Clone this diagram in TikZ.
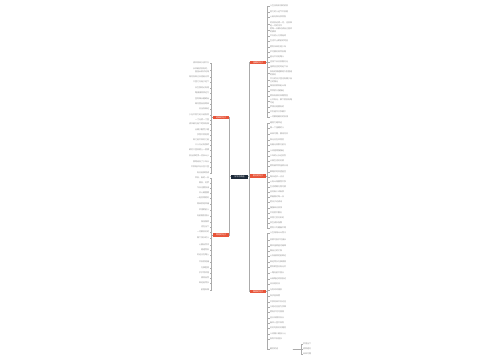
\documentclass[tikz,border=0pt]{standalone}
\usepackage{fontspec}
\newfontfamily\cjk{Noto Sans CJK SC}
\XeTeXlinebreaklocale "zh"
\XeTeXlinebreakskip=0pt
\usepackage{tikz}
\usetikzlibrary{positioning}
\usepackage{xcolor}
\definecolor{rootblue}{HTML}{1E2B3A}
\definecolor{topicred}{HTML}{E8553A}
\definecolor{linkgray}{HTML}{ABABAB}
\definecolor{leafgray}{HTML}{8C8C8C}

\begin{document}
\begin{tikzpicture}[x=1pt, y=-1pt,
  root/.style={rectangle, fill=rootblue, text=white, minimum width=17pt,
               minimum height=4pt, inner sep=0.4pt,
               font=\cjk\fontsize{2}{2.4}\selectfont},
  topic/.style={rectangle, fill=topicred, text=white, minimum width=16pt,
                minimum height=3.6pt, inner sep=0.4pt,
                font=\cjk\fontsize{2}{2.4}\selectfont},
  leafR/.style={anchor=west, text width=22pt, align=left, inner sep=0.3pt,
                text=leafgray, font=\cjk\fontsize{2}{2.6}\selectfont},
  leafL/.style={anchor=east, text width=22pt, align=right, inner sep=0.3pt,
                text=leafgray, font=\cjk\fontsize{2}{2.6}\selectfont},
  link/.style={draw=linkgray, line width=1pt},
  twig/.style={draw=linkgray, line width=0.6pt}
]
  \fill[white] (0,0) rectangle (500,360);
  \useasboundingbox (0,0) rectangle (500,360);

  % Centre and main topics
  \node[root]  (c)  at (239.5,176.5) {好句子精选};
  \node[topic] (r1) at (258,62.5)    {温暖的句子};
  \node[topic] (r2) at (258,176)     {励志的句子};
  \node[topic] (r3) at (258,291.5)   {唯美的句子};
  \node[topic] (l1) at (221,117.5)   {经典的句子};
  \node[topic] (l2) at (221,235)     {简短的句子};

  % Topic links
  \draw[link] (c.east) -- ++(1,0) |- (r1.west);
  \draw[link] (c.east) -- ++(1,0) |- (r2.west);
  \draw[link] (c.east) -- ++(1,0) |- (r3.west);
  \draw[link] (c.west) -- ++(-1,0) |- (l1.east);
  \draw[link] (c.west) -- ++(-1,0) |- (l2.east);

  % Right, first topic
  \foreach \y/\txt [count=\i] in {6/人生没有彩排的机会, 12/努力的人运气不会差,
      17/心若向阳无畏悲伤, 24/时间会证明一切，也会带走一切的浮华,
      30/把每一天都过成自己喜欢的模样, 36/不忘初心方得始终, 41/生活不止眼前的苟且,
      47/愿你归来仍是少年, 52/岁月静好现世安稳, 57/星光不问赶路人,
      62/坚持下去总会看见光, 67/温柔且坚定地走下去, 73/所有的相遇都是久别重逢的美好,
      80/平凡的日子里也有属于自己的微光, 86/保持热爱奔赴山海, 91/世界很大慢慢走,
      96/愿所有美好如期而至, 101/心中有光，脚下就会有路可走, 107/梦想总是要有的,
      112/不负韶华只争朝夕, 117/一切都是最好的安排} {
    \node[leafR] (ra\i) at (269.5,\y) {\txt};
    \draw[twig] (r1.east) -- ++(1.5,0) |- (ra\i.west);
  }

  % Right, second topic
  \foreach \y/\txt [count=\i] in {123/越努力越幸运, 128/做一个温暖的人,
      134/未来可期，静待花开, 140/阳光总在风雨后, 145/向着光亮那方前行,
      151/人间值得慢慢走, 156/少年的心永远热烈, 161/认真生活好好爱,
      166/愿你被世界温柔以待, 172/脚踏实地仰望星空, 177/每天进步一点点,
      182/心有山海静而不争, 187/生活明朗万物可爱, 192/且将新火试新茶,
      197/笑着面对每一天, 202/把日子过成诗, 208/慢慢来比较快, 213/不将就不敷衍,
      218/风雨之后见彩虹, 223/余生请多指教, 228/愿你三冬暖春不寒} {
    \node[leafR] (rb\i) at (269.5,\y) {\txt};
    \draw[twig] (r2.east) -- ++(1.5,0) |- (rb\i.west);
  }

  % Right, third topic
  \foreach \y/\txt [count=\i] in {233/人生海海山山而川, 240/热爱可抵岁月漫长,
      246/晚风温柔星河璀璨, 251/做自己的太阳, 256/心存善意定能致远,
      262/知足常乐万事顺意, 267/愿你眼里总有光芒, 273/一路向前不回头,
      279/山高路远终会抵达, 284/日日是好日, 290/与你环环相扣, 296/所求皆如愿,
      302/不畏将来不念过往, 307/凡是过往皆为序章, 312/愿有岁月可回首,
      318/且以深情共白头, 323/春风十里不如你, 328/好好吃饭好好睡觉,
      334/人间烟火最抚人心, 339/祝你平安喜乐, 349/最后的话} {
    \node[leafR] (rc\i) at (269.5,\y) {\txt};
    \draw[twig] (r3.east) -- ++(1.5,0) |- (rc\i.west);
  }

  % Sub-leaves of the last one
  \node[leafR, text width=10pt] (rd1) at (302.5,344) {珍惜当下};
  \node[leafR, text width=10pt] (rd2) at (302.5,349) {感恩遇见};
  \node[leafR, text width=10pt] (rd3) at (302.5,354) {未来可期};
  \foreach \k in {1,2,3}
    \draw[twig] (rc21.east) -- ++(8.5,0) |- (rd\k.west);

  % Left, first topic
  \foreach \y/\txt [count=\i] in {63/清风徐来水波不兴, 70/长风破浪会有时，直挂云帆济沧海,
      77/海内存知己天涯若比邻, 82/千里之行始于足下, 88/天生我材必有用,
      93/路漫漫其修远兮, 99/宝剑锋从磨砺出, 104/梅花香自苦寒来, 109/志当存高远,
      115/少壮不努力老大徒伤悲, 120/一寸光阴一寸金, 124/读书破万卷下笔如有神,
      130/业精于勤荒于嬉, 135/学而不思则罔, 140/知之者不如好之者,
      145/三人行必有我师, 150/欲穷千里目更上一层楼, 156/会当凌绝顶一览众山小,
      162/莫等闲白了少年头, 167/不积跬步无以至千里, 173/有志者事竟成} {
    \node[leafL] (la\i) at (209.5,\y) {\txt};
    \draw[twig] (l1.west) -- ++(-2,0) |- (la\i.east);
  }

  % Left, second topic
  \foreach \y/\txt [count=\i] in {178/早安，新的一天, 183/晚安，好梦,
      188/今天也要加油, 193/开心最重要, 198/一起变得更好, 204/简单就是幸福,
      210/珍惜眼前人, 216/向前看别回头, 222/保持微笑, 227/活在当下,
      232/一切都会好的, 238/做个快乐的人, 245/心静自然凉, 250/随遇而安,
      255/好运正在路上, 262/平安就是福, 268/万事胜意, 273/岁岁常欢愉,
      278/顺其自然, 283/知足者常乐, 290/前程似锦} {
    \node[leafL] (lb\i) at (209.5,\y) {\txt};
    \draw[twig] (l2.west) -- ++(-2,0) |- (lb\i.east);
  }
\end{tikzpicture}
\end{document}
